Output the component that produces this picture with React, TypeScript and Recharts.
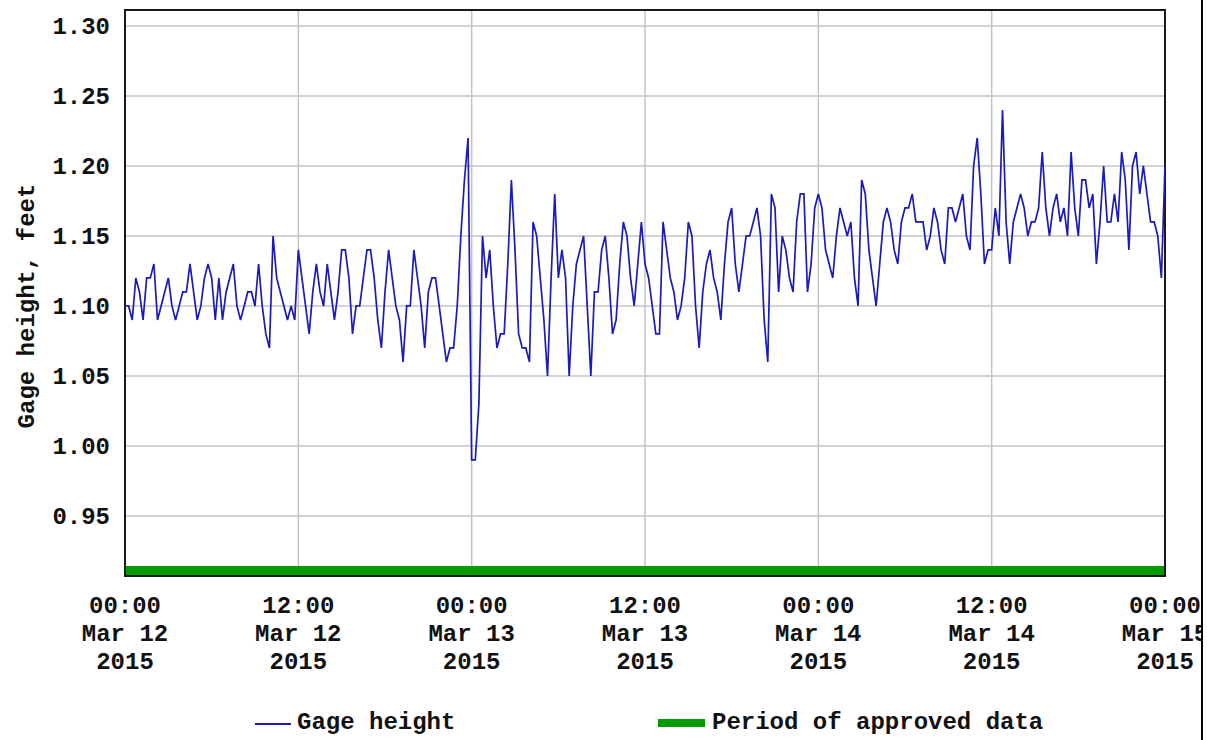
import { LineChart, Line, XAxis, YAxis, CartesianGrid, ReferenceArea } from "recharts";

// 15-minute gage height readings, Mar 12 00:00 -> Mar 15 00:00 2015 (feet)
const gageHeight = [
  1.1, 1.1, 1.09, 1.12, 1.11, 1.09, 1.12, 1.12, 1.13, 1.09,
  1.1, 1.11, 1.12, 1.1, 1.09, 1.1, 1.11, 1.11, 1.13, 1.11,
  1.09, 1.1, 1.12, 1.13, 1.12, 1.09, 1.12, 1.09, 1.11, 1.12,
  1.13, 1.1, 1.09, 1.1, 1.11, 1.11, 1.1, 1.13, 1.1, 1.08,
  1.07, 1.15, 1.12, 1.11, 1.1, 1.09, 1.1, 1.09,
  1.14, 1.12, 1.1, 1.08, 1.11, 1.13, 1.11, 1.1, 1.13, 1.11,
  1.09, 1.11, 1.14, 1.14, 1.12, 1.08, 1.1, 1.1, 1.12, 1.14,
  1.14, 1.12, 1.09, 1.07, 1.11, 1.14, 1.12, 1.1, 1.09, 1.06,
  1.1, 1.1, 1.14, 1.12, 1.1, 1.07, 1.11, 1.12, 1.12, 1.1,
  1.08, 1.06, 1.07, 1.07, 1.1, 1.15, 1.19, 1.22,
  0.99, 0.99, 1.03, 1.15, 1.12, 1.14, 1.1, 1.07, 1.08, 1.08, 1.13,
  1.19, 1.14, 1.08, 1.07, 1.07, 1.06, 1.16, 1.15, 1.12, 1.09,
  1.05, 1.12, 1.18, 1.12, 1.14, 1.12, 1.05, 1.1, 1.13, 1.14,
  1.15, 1.1, 1.05, 1.11, 1.11, 1.14, 1.15, 1.12, 1.08, 1.09,
  1.13, 1.16, 1.15, 1.12, 1.1, 1.13, 1.16,
  1.13, 1.12, 1.1, 1.08, 1.08, 1.16, 1.14, 1.12, 1.11, 1.09,
  1.1, 1.12, 1.16, 1.15, 1.1, 1.07, 1.11, 1.13, 1.14, 1.12,
  1.11, 1.09, 1.13, 1.16, 1.17, 1.13, 1.11, 1.13, 1.15, 1.15,
  1.16, 1.17, 1.15, 1.09, 1.06, 1.18, 1.17, 1.11, 1.15, 1.14,
  1.12, 1.11, 1.16, 1.18, 1.18, 1.11, 1.13, 1.17,
  1.18, 1.17, 1.14, 1.13, 1.12, 1.15, 1.17, 1.16, 1.15, 1.16,
  1.12, 1.1, 1.19, 1.18, 1.14, 1.12, 1.1, 1.13, 1.16, 1.17,
  1.16, 1.14, 1.13, 1.16, 1.17, 1.17, 1.18, 1.16, 1.16, 1.16,
  1.14, 1.15, 1.17, 1.16, 1.14, 1.13, 1.17, 1.17, 1.16, 1.17,
  1.18, 1.15, 1.14, 1.2, 1.22, 1.18, 1.13, 1.14,
  1.14, 1.17, 1.15, 1.24, 1.16, 1.13, 1.16, 1.17, 1.18, 1.17,
  1.15, 1.16, 1.16, 1.17, 1.21, 1.17, 1.15, 1.17, 1.18, 1.16,
  1.17, 1.15, 1.21, 1.17, 1.15, 1.19, 1.19, 1.17, 1.18, 1.13,
  1.16, 1.2, 1.16, 1.16, 1.18, 1.16, 1.21, 1.19, 1.14, 1.2,
  1.21, 1.18, 1.2, 1.18, 1.16, 1.16, 1.15, 1.12, 1.2,
];

const hourTicks = [0, 12, 24, 36, 48, 60, 72];
const tickTimes = ["00:00", "12:00", "00:00", "12:00", "00:00", "12:00", "00:00"];
const tickDates = ["Mar 12", "Mar 12", "Mar 13", "Mar 13", "Mar 14", "Mar 14", "Mar 15"];
const tickYears = ["2015", "2015", "2015", "2015", "2015", "2015", "2015"];
const heightTicks = [0.95, 1.0, 1.05, 1.1, 1.15, 1.2, 1.25, 1.3];
const approvedPeriod = [0, 72];

const data = gageHeight.map((v, i) => ({ hour: i * 0.25, gage: v }));

const FONT = '"Liberation Mono", "DejaVu Sans Mono", monospace';
const Y_MIN = 0.9071;
const Y_MAX = 1.3114;

function TimeTick({ x, y, payload }: any) {
  const k = hourTicks.indexOf(payload.value);
  return (
    <text x={x} y={y} textAnchor="middle" fill="#111" fontFamily={FONT} fontSize={24} fontWeight="bold">
      <tspan x={x} dy={37}>{tickTimes[k]}</tspan>
      <tspan x={x} dy={28}>{tickDates[k]}</tspan>
      <tspan x={x} dy={28}>{tickYears[k]}</tspan>
    </text>
  );
}

function AxisTitle() {
  return (
    <text
      x={27}
      y={306}
      transform="rotate(-90 27 306)"
      textAnchor="middle"
      dominantBaseline="central"
      fill="#111"
      fontFamily={FONT}
      fontSize={24}
      fontWeight="bold"
    >
      Gage height, feet
    </text>
  );
}

export default function App() {
  return (
    <div style={{ position: "absolute", left: 0, top: 0, width: 1207, height: 740, background: "#fff", overflow: "hidden" }}>
      <LineChart width={1207} height={740} data={data} margin={{ top: 10, right: 42, bottom: 0, left: 0 }}>
        <CartesianGrid stroke="#c4c4c4" strokeWidth={1.5} />
        <XAxis
          dataKey="hour"
          type="number"
          domain={[0, 72]}
          ticks={hourTicks}
          interval={0}
          height={164}
          axisLine={false}
          tickLine={false}
          tickSize={0}
          tickMargin={0}
          tick={<TimeTick />}
        />
        <YAxis
          type="number"
          domain={[Y_MIN, Y_MAX]}
          allowDataOverflow
          ticks={heightTicks}
          interval={0}
          width={125}
          axisLine={false}
          tickLine={false}
          tickSize={0}
          tickMargin={15}
          tickFormatter={(v: number) => v.toFixed(2)}
          tick={{ fill: "#111", fontSize: 24, fontFamily: FONT, fontWeight: "bold" }}
          label={() => <AxisTitle />}
        />
        <ReferenceArea
          x1={approvedPeriod[0]}
          x2={approvedPeriod[1]}
          y1={Y_MIN}
          y2={0.9143}
          fill="#009c00"
          fillOpacity={1}
          stroke="none"
        />
        <Line
          dataKey="gage"
          type="linear"
          stroke="#1a1abe"
          strokeWidth={1.7}
          dot={false}
          isAnimationActive={false}
        />
        <ReferenceArea
          x1={0}
          x2={72}
          y1={Y_MIN}
          y2={Y_MAX}
          fill="none"
          stroke="#1a1a1a"
          strokeWidth={2}
        />
      </LineChart>

      {/* legend */}
      <div style={{ position: "absolute", left: 255, top: 723, width: 36, height: 1.5, background: "#1a1abe" }} />
      <div style={{ position: "absolute", left: 297, top: 709, fontFamily: FONT, fontSize: 24, fontWeight: "bold", color: "#111", whiteSpace: "pre" }}>
        Gage height
      </div>
      <div style={{ position: "absolute", left: 658, top: 719, width: 47, height: 8, background: "#009c00" }} />
      <div style={{ position: "absolute", left: 712, top: 709, fontFamily: FONT, fontSize: 24, fontWeight: "bold", color: "#111", whiteSpace: "pre" }}>
        Period of approved data
      </div>

      {/* right frame edge */}
      <div style={{ position: "absolute", left: 1201, top: 0, width: 6, height: 740, background: "#fff", borderLeft: "2px solid #000" }} />
    </div>
  );
}
